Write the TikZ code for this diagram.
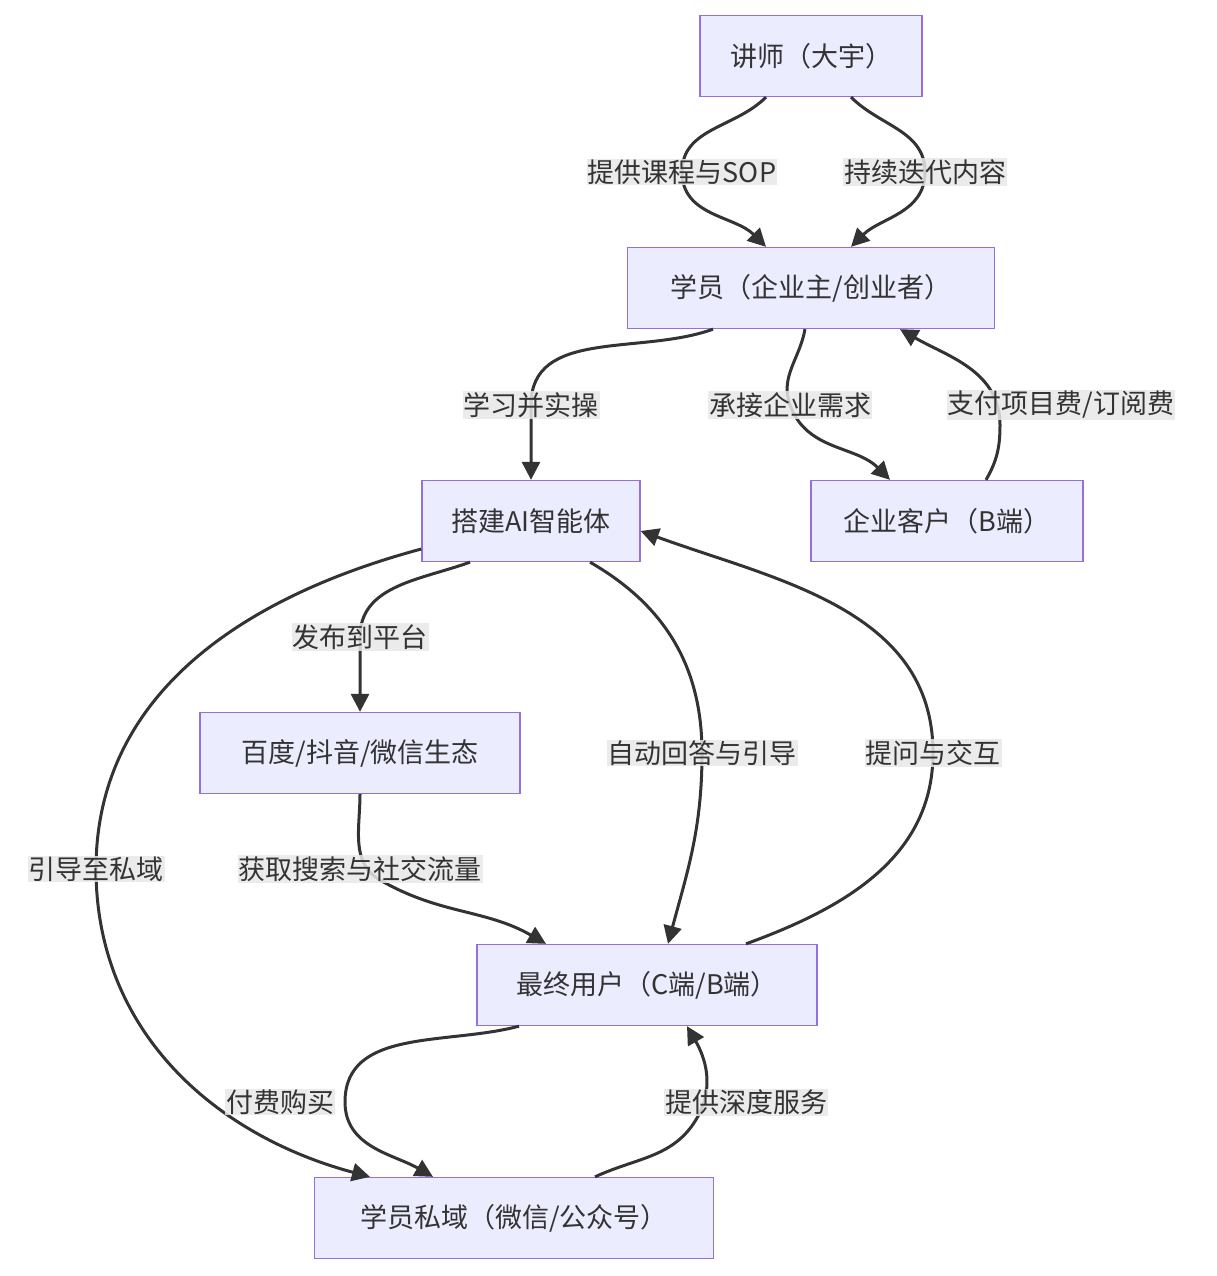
\documentclass[tikz,border=0pt]{standalone}
\usepackage{fontspec}
\setmainfont{Noto Sans CJK SC}
\usetikzlibrary{arrows.meta}
\definecolor{nf}{HTML}{ECECFF}
\definecolor{nd}{HTML}{9370DB}
\definecolor{ln}{HTML}{333333}
\definecolor{lb}{HTML}{E8E8E8}
\begin{document}
\begin{tikzpicture}[x=1pt,y=1pt,
  box/.style={draw=nd,fill=nf,line width=1.3pt,minimum height=81pt,inner sep=0pt,font=\fontsize{27}{32}\selectfont,text=ln},
  lbl/.style={fill=lb,fill opacity=0.85,text opacity=1,inner sep=1pt,font=\fontsize{27}{32}\selectfont,text=ln},
  e/.style={draw=ln,line width=3pt,-{Triangle[length=18pt,width=18pt]}}]
\useasboundingbox (0,0) rectangle (1216,-1276);
\node[box,minimum width=222pt] (t) at (811,-56) {讲师（大宇）};
\node[box,minimum width=367pt] (s) at (811,-288) {学员（企业主/创业者）};
\node[box,minimum width=218pt] (a) at (531,-521) {搭建AI智能体};
\node[box,minimum width=272pt] (b) at (947,-521) {企业客户（B端）};
\node[box,minimum width=320pt] (p) at (360,-753) {百度/抖音/微信生态};
\node[box,minimum width=340pt] (u) at (647,-985) {最终用户（C端/B端）};
\node[box,minimum width=399pt] (w) at (514,-1218) {学员私域（微信/公众号）};
\coordinate (c1) at (682,-172);
\coordinate (c2) at (925,-172);
\coordinate (c3) at (531,-405);
\coordinate (c4) at (790,-405);
\coordinate (c5) at (1000,-425);
\coordinate (c6) at (360,-637);
\coordinate (c7) at (702,-753);
\coordinate (c8) at (933,-753);
\coordinate (c9) at (96,-869);
\coordinate (c10) at (380,-880);
\coordinate (c11) at (345,-1102);
\coordinate (c12) at (697,-1118);
\draw[e] ([xshift=-45pt]t.south) to[out=225,in=90] (c1) to[out=-90,in=135] ([xshift=-45pt]s.north);
\draw[e] ([xshift=40pt]t.south) to[out=-45,in=90] (c2) to[out=-90,in=45] ([xshift=40pt]s.north);
\draw[e] ([xshift=-98pt]s.south) to[out=200,in=90] (c3) to[out=-90,in=90] (a.north);
\draw[e] ([xshift=-6pt]s.south) to[out=-100,in=110] (c4) to[out=-70,in=135] ([xshift=-57pt]b.north);
\draw[e] ([xshift=39pt]b.north) to[out=60,in=-90] (c5) to[out=90,in=-30] ([xshift=89pt]s.south);
\draw[e] ([xshift=-61pt]a.south) to[out=200,in=90] (c6) to[out=-90,in=90] (p.north);
\draw[e] ([xshift=59pt]a.south) to[out=-30,in=90] (c7) to[out=-90,in=75] ([xshift=21pt]u.north);
\draw[e] ([xshift=99pt]u.north) to[out=20,in=-90] (c8) to[out=90,in=-20] ([yshift=-10pt]a.east);
\draw[e] ([yshift=-28pt]a.west) to[out=195,in=90] (c9) to[out=-90,in=165] ([xshift=-144pt]w.north);
\draw[e] (p.south) to[out=-90,in=150] (c10) to[out=-30,in=150] ([xshift=-101pt]u.north);
\draw[e] ([xshift=-128pt]u.south) to[out=195,in=90] (c11) to[out=-90,in=150] ([xshift=-81pt]w.north);
\draw[e] ([xshift=81pt]w.north) to[out=25,in=-120] (c12) to[out=60,in=-60] ([xshift=40pt]u.south);
\node[lbl] (l1) at (682,-172) {提供课程与SOP};
\node[lbl] (l2) at (925,-172) {持续迭代内容};
\node[lbl] (l3) at (531,-405) {学习并实操};
\node[lbl] (l4) at (790,-405) {承接企业需求};
\node[lbl] (l5) at (1061,-405) {支付项目费/订阅费};
\node[lbl] (l6) at (360,-637) {发布到平台};
\node[lbl] (l7) at (702,-753) {自动回答与引导};
\node[lbl] (l8) at (933,-753) {提问与交互};
\node[lbl] (l9) at (96,-869) {引导至私域};
\node[lbl] (l10) at (360,-869) {获取搜索与社交流量};
\node[lbl] (l11) at (280,-1102) {付费购买};
\node[lbl] (l12) at (746,-1102) {提供深度服务};
\end{tikzpicture}
\end{document}
